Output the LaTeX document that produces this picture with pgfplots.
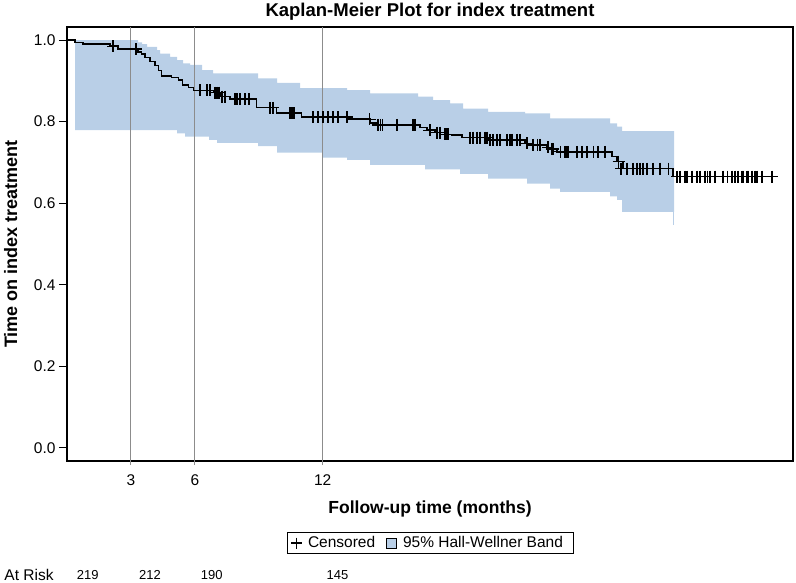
\documentclass[border=0pt]{standalone}
\usepackage{fontspec}
\setmainfont{Liberation Sans}
\usepackage{pgfplots}
\usepackage{pgfplotstable}
\pgfplotsset{compat=1.18}
\usepgfplotslibrary{fillbetween}

\definecolor{bandblue}{RGB}{185,207,231}
\definecolor{refgray}{RGB}{140,140,140}

% Kaplan-Meier estimate (step function, value holds until next time)
\pgfplotstableread{
t s
0.000 1.000
0.376 0.9935
0.751 0.990
2.019 0.985
2.394 0.978
3.333 0.971
3.507 0.966
3.662 0.957
3.897 0.947
4.131 0.937
4.286 0.925
4.446 0.912
4.915 0.908
5.225 0.902
5.432 0.890
5.695 0.884
5.930 0.877
6.869 0.871
7.183 0.861
7.653 0.855
8.906 0.834
9.845 0.821
11.019 0.811
13.192 0.806
14.225 0.797
14.554 0.792
16.573 0.786
16.901 0.779
17.277 0.773
17.746 0.769
18.075 0.767
18.545 0.761
19.765 0.755
21.502 0.747
21.737 0.743
22.535 0.737
22.676 0.733
23.005 0.726
25.587 0.714
25.822 0.702
26.103 0.685
28.451 0.665
33.333 0.665
}\kmcurve

% Hall-Wellner band, upper and lower limits
\pgfplotstableread{
t s
0.376 1.000
3.333 0.994
3.521 0.990
3.756 0.983
4.225 0.975
4.366 0.967
4.836 0.959
5.164 0.951
5.446 0.943
5.775 0.939
6.338 0.926
6.854 0.918
8.967 0.906
9.859 0.895
10.939 0.882
13.146 0.877
14.225 0.869
16.479 0.861
17.183 0.853
17.981 0.845
18.592 0.832
19.765 0.824
21.502 0.820
22.676 0.808
25.493 0.796
25.822 0.788
26.056 0.777
28.498 0.777
}\hwupper

\pgfplotstableread{
t s
0.376 0.779
5.164 0.771
5.540 0.763
6.667 0.755
7.042 0.748
8.967 0.740
9.859 0.724
12.019 0.712
13.146 0.706
14.225 0.694
16.808 0.683
18.451 0.672
19.765 0.660
21.596 0.648
22.676 0.636
23.146 0.628
25.493 0.617
25.822 0.608
26.056 0.579
28.498 0.579
}\hwlower

% censored observations
\pgfplotstableread{
t s
2.160 0.985
3.239 0.978
6.244 0.877
6.573 0.877
6.714 0.877
6.948 0.871
7.042 0.871
7.136 0.871
7.277 0.861
7.418 0.861
7.887 0.855
7.981 0.855
8.122 0.855
8.357 0.855
8.545 0.855
9.531 0.834
9.671 0.834
10.469 0.821
10.563 0.821
10.657 0.821
11.549 0.811
11.784 0.811
12.019 0.811
12.254 0.811
12.488 0.811
12.723 0.811
13.150 0.811
14.200 0.806
14.600 0.792
14.700 0.792
14.800 0.792
15.490 0.792
16.240 0.792
16.340 0.792
17.000 0.779
17.050 0.779
17.370 0.773
17.510 0.773
17.750 0.769
17.840 0.769
17.890 0.769
18.920 0.761
19.060 0.761
19.250 0.761
19.390 0.761
19.620 0.761
19.720 0.761
19.860 0.755
20.000 0.755
20.190 0.755
20.330 0.755
20.660 0.755
20.800 0.755
20.890 0.755
21.130 0.755
21.270 0.755
21.600 0.747
21.880 0.743
22.070 0.743
22.210 0.743
22.580 0.737
22.770 0.733
22.820 0.733
23.150 0.726
23.380 0.726
23.470 0.726
23.520 0.726
23.940 0.726
24.180 0.726
24.410 0.726
24.700 0.726
24.930 0.726
25.260 0.726
25.900 0.702
26.000 0.685
26.290 0.685
26.570 0.685
26.760 0.685
26.900 0.685
27.040 0.685
27.230 0.685
27.510 0.685
27.840 0.685
28.220 0.685
28.640 0.665
28.780 0.665
29.010 0.665
29.110 0.665
29.340 0.665
29.580 0.665
29.720 0.665
29.950 0.665
30.050 0.665
30.190 0.665
30.420 0.665
30.800 0.665
30.990 0.665
31.220 0.665
31.360 0.665
31.500 0.665
31.690 0.665
31.740 0.665
31.920 0.665
31.970 0.665
32.160 0.665
32.300 0.665
32.390 0.665
32.630 0.665
33.100 0.665
}\censored

\begin{document}
\begin{tikzpicture}
\begin{axis}[
    width=726pt, height=434pt, scale only axis,
    at={(0,0)}, anchor=south west,
    xmin=0, xmax=34.08,
    ymin=-0.032, ymax=1.032,
    xtick={3,6,12},
    ytick={0,0.2,0.4,0.6,0.8,1.0},
    yticklabel style={/pgf/number format/.cd, fixed, fixed zerofill, precision=1},
    /pgf/number format/assume math mode=true,
    tick align=outside,
    xtick pos=bottom, ytick pos=left,
    major tick length=8pt,
    xtick style={draw=none},
    ytick style={black, line width=1pt},
    axis line style={black, line width=1.1pt},
    ticklabel style={font=\fontsize{15.5}{18}\selectfont},
    xticklabel style={yshift=-2pt},
    title={Kaplan-Meier Plot for index treatment},
    title style={font=\bfseries\fontsize{18.5}{22}\selectfont, at={(0.5,1)}, anchor=south, yshift=-3pt},
    xlabel={Follow-up time (months)},
    xlabel style={font=\bfseries\fontsize{17.5}{20}\selectfont, at={(axis description cs:0.5,-0.1106)}, anchor=center},
    ylabel={Time on index treatment},
    ylabel style={font=\bfseries\fontsize{18}{20}\selectfont, at={(axis description cs:-0.0775,0.5)}, anchor=center},
    legend style={at={(0.5,-0.189)}, anchor=center, legend columns=2,
        draw=black, line width=0.8pt, font=\fontsize{15.5}{18}\selectfont,
        inner xsep=4pt, inner ysep=2pt,
        nodes={inner xsep=6pt},
        /tikz/every even column/.append style={column sep=5pt}},
    legend cell align=left,
    clip=false,
]
% legend entries
\addlegendimage{only marks, mark=+, mark size=5.5pt, black, line width=1.2pt}
\addlegendentry{Censored}
\addlegendimage{legend image code/.code={
    \draw[fill=bandblue, draw=black, line width=0.8pt] (0pt,-5pt) rectangle (10pt,5pt);}}
\addlegendentry{95\% Hall-Wellner Band}

% confidence band
\addplot[const plot, draw=none, name path=upper, forget plot] table[x=t, y=s] {\hwupper};
\addplot[const plot, draw=none, name path=lower, forget plot] table[x=t, y=s] {\hwlower};
\addplot[bandblue, forget plot] fill between[of=upper and lower];
\addplot[bandblue, line width=1.3pt, forget plot] coordinates {(28.46,0.579) (28.46,0.547)};

% reference lines at 3, 6, 12 months
\addplot[refgray, line width=1pt, forget plot] coordinates {(3,-0.042) (3,1.032)};
\addplot[refgray, line width=1pt, forget plot] coordinates {(6,-0.042) (6,1.032)};
\addplot[refgray, line width=1pt, forget plot] coordinates {(12,-0.042) (12,1.032)};

% survival curve
\addplot[const plot, black, line width=1.4pt, forget plot] table[x=t, y=s] {\kmcurve};
\addplot[only marks, mark=+, mark size=6pt, black, line width=1.3pt, forget plot] table[x=t, y=s] {\censored};

% numbers at risk
\node[font=\fontsize{15.5}{18}\selectfont] at (rel axis cs:-0.0523,-0.2627) {At Risk};
\node[font=\fontsize{13}{16}\selectfont] at (rel axis cs:0.0287,-0.2627) {219};
\node[font=\fontsize{13}{16}\selectfont] at (rel axis cs:0.1143,-0.2627) {212};
\node[font=\fontsize{13}{16}\selectfont] at (rel axis cs:0.1994,-0.2627) {190};
\node[font=\fontsize{13}{16}\selectfont] at (rel axis cs:0.3726,-0.2627) {145};
\end{axis}
\pgfresetboundingbox
\useasboundingbox (-67pt,-122pt) rectangle (729pt,461pt);
\end{tikzpicture}
\end{document}
